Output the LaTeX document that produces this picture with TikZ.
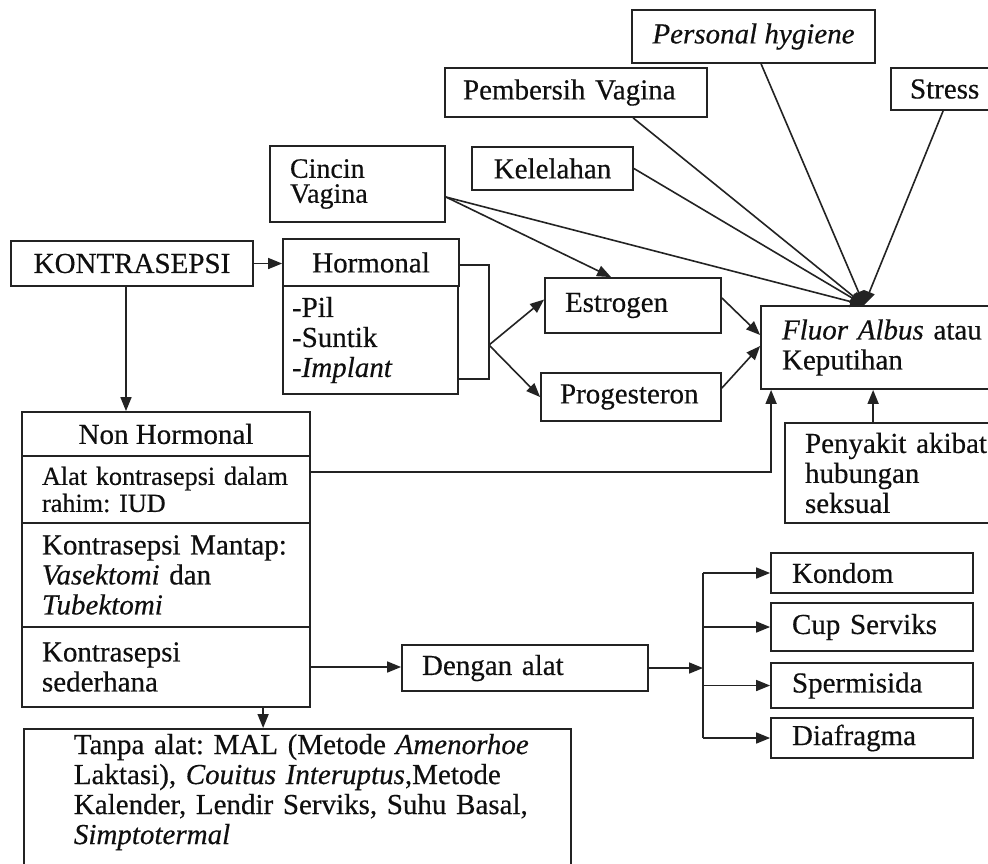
\documentclass[tikz,border=0pt]{standalone}
\usepackage{fontspec}
\setmainfont{Liberation Serif}[FakeBold=0.4]
\usetikzlibrary{arrows.meta,calc}
\hyphenpenalty=10000
\exhyphenpenalty=10000
\definecolor{lncol}{RGB}{35,35,35}
\definecolor{txcol}{RGB}{15,15,15}
\tikzset{
  rect/.style n args={4}{minimum width={(#3-#1)*0.5pt}, minimum height={(#4-#2)*0.5pt}, at={({(#1+#3)/2},{(#2+#4)/2})}},
  box/.style={draw=lncol, line width=0.9pt, inner sep=0pt, text=txcol, font=\fontsize{14.5}{15}\selectfont, anchor=center},
  lft/.style={align=left, text width=#1},
  wire/.style={draw=lncol, line width=0.8pt},
  arr/.style={draw=lncol, line width=0.8pt, -{Triangle[length=7pt,width=5.5pt]}},
}
\begin{document}
\begin{tikzpicture}[x=0.5pt,y=-0.5pt]
\useasboundingbox (0,0) rectangle (988,863);
\fill[white] (0,0) rectangle (988,863);
\clip (0,0) rectangle (988,863);

% top factors
\node[box, rect={632}{10}{875}{63}] (pers) {\textit{Personal hygiene}};
\node[box, rect={445}{68}{707}{117}, lft=113pt] (pemb) {Pembersih~Vagina};
\node[box, rect={891}{68}{1010}{110}, lft=40.5pt] (stress) {Stress};
\node[box, rect={472}{147}{633}{190}] (kel) {Kelelahan};
\node[box, rect={270}{146}{445}{222}, lft=67.5pt, font=\fontsize{14}{12.5}\selectfont] (cinc) {Cincin\\Vagina};

% hormonal
\node[box, rect={11}{241}{253}{286}] (kon) {KONTRASEPSI};
\node[box, rect={283}{239}{459}{286}] (horm) {Hormonal};
\node[box, rect={283}{286}{458}{394}, lft=78.5pt] (hlist) {-Pil\\-Suntik\\\textit{-Implant}};
\node[box, rect={545}{278}{721}{333}, lft=68pt] (estr) {Estrogen};
\node[box, rect={541}{373}{721}{421}, lft=71pt] (prog) {Progesteron};
\node[box, rect={761}{306}{1010}{389}, lft=103.5pt] (fluor) {\textit{Fluor~Albus}~atau\\Keputihan};
\node[box, rect={785}{423}{1020}{523}, lft=97.5pt] (peny) {Penyakit~akibat\\hubungan\\seksual};

% non hormonal
\node[box, rect={22}{412}{310}{456}] (nh) {Non Hormonal};
\node[box, rect={22}{456}{310}{523}, lft=124pt, font=\fontsize{13.1}{13.5}\selectfont] (iud) {Alat~kontrasepsi~dalam\\rahim:~IUD};
\node[box, rect={22}{523}{310}{627}, lft=124pt] (mant) {Kontrasepsi~Mantap:\\\textit{Vasektomi}~dan\\\textit{Tubektomi}};
\node[box, rect={22}{627}{310}{707}, lft=124pt] (sed) {Kontrasepsi\\sederhana};
\node[box, rect={402}{645}{648}{691}, lft=103pt] (deng) {Dengan~alat};
\node[box, rect={771}{553}{973}{593}, lft=80pt] (kond) {Kondom};
\node[box, rect={771}{603}{973}{651}, lft=80pt] (cup) {Cup~Serviks};
\node[box, rect={771}{663}{973}{708}, lft=80pt] (sperm) {Spermisida};
\node[box, rect={771}{718}{973}{758}, lft=80pt] (diaf) {Diafragma};
\node[box, anchor=north west, inner xsep=25pt, inner ysep=2.5pt, text width=223.5pt, align=left, text depth=60pt] (tanpa) at (23,728)
  {Tanpa~alat:~MAL~(Metode~\textit{Amenorhoe}\\Laktasi),~\textit{Couitus~Interuptus},Metode\\Kalender,~Lendir~Serviks,~Suhu~Basal,\\\textit{Simptotermal}};

% connectors: kontrasepsi
\draw[arr] (kon.east) -- (kon.east -| horm.west);
\coordinate (kd) at ([xshift=-3pt]kon.south);
\draw[arr] (kd) -- (kd |- nh.north);

% hormonal bracket
\coordinate (bt) at (489,265);
\coordinate (bb) at (489,379);
\coordinate (brk) at (489,345);
\draw[wire] (bt -| horm.east) -- (bt) -- (bb) -- (bb -| hlist.east);
\draw[arr] (brk) -- ([yshift=3pt]estr.west);
\draw[arr] (brk) -- (prog.west);

% factors into Fluor Albus
\coordinate (cv) at ([yshift=-6.5pt]cinc.east);
\coordinate (et) at ($(estr.north west)+(67,0)$);
\coordinate (fa) at ($(fluor.north west)+(104,0)$);
\draw[arr] (cv) -- (et);
\draw[arr] (cv) -- (fa);
\draw[arr] (kel.east) -- (fa);
\draw[arr] ($(pemb.south west)+(189,0)$) -- (fa);
\draw[arr] ($(pers.south west)+(130,0)$) -- (fa);
\draw[arr] ($(stress.south west)+(53,0)$) -- (fa);
\draw[arr] ([yshift=3.75pt]estr.east) -- ([yshift=6.25pt]fluor.west);
\draw[arr] ([yshift=4.5pt]prog.east) -- ([yshift=0.75pt]fluor.west);
\draw[arr] ([yshift=8.75pt]iud.east) -| ($(fluor.south west)+(11,0)$);
\draw[arr] ($(peny.north west)+(89,0)$) -- ($(fluor.south west)+(113,0)$);

% sederhana
\draw[arr] (sed.east) -- (sed.east -| deng.west);
\coordinate (bus) at (703,668);
\draw[arr] (deng.east) -- (deng.east -| bus);
\draw[wire] (kond.west -| bus) -- (diaf.west -| bus);
\draw[arr] (kond.west -| bus) -- (kond.west);
\draw[arr] (cup.west -| bus) -- (cup.west);
\draw[arr] (sperm.west -| bus) -- (sperm.west);
\draw[arr] (diaf.west -| bus) -- (diaf.west);
\coordinate (sb) at ($(sed.south west)+(242,0)$);
\draw[arr] (sb) -- (sb |- tanpa.north);
\end{tikzpicture}
\end{document}
